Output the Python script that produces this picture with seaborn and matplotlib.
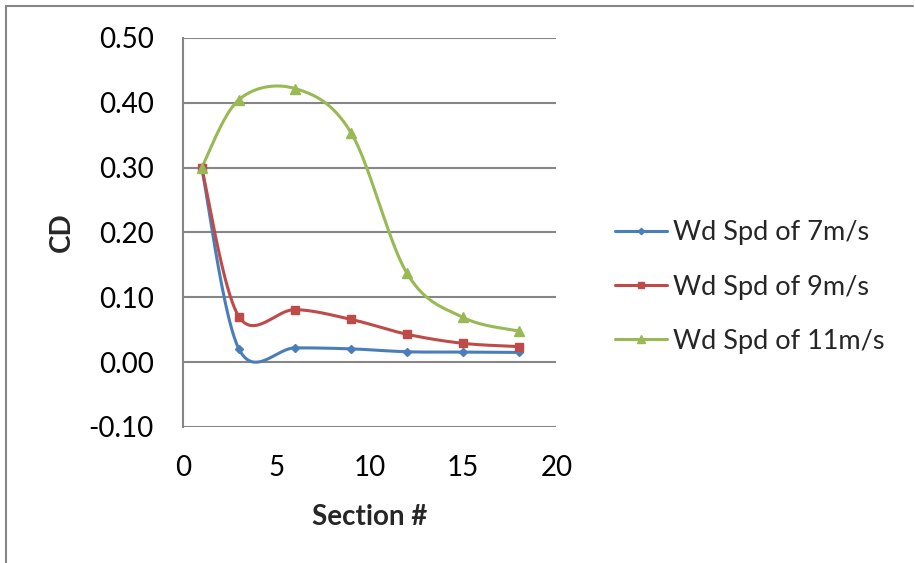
import numpy as np
import pandas as pd
import matplotlib
matplotlib.use("Agg")
import matplotlib.pyplot as plt
from matplotlib.lines import Line2D
import seaborn as sns

# Section positions and drag coefficients per wind speed
sections = [1, 3, 6, 9, 12, 15, 18]
cd_7 = [0.300, 0.020, 0.022, 0.0205, 0.016, 0.0155, 0.015]
cd_9 = [0.300, 0.070, 0.081, 0.066, 0.043, 0.029, 0.024]
cd_11 = [0.300, 0.405, 0.422, 0.354, 0.137, 0.069, 0.048]
series_names = ["Wd Spd of 7m/s", "Wd Spd of 9m/s", "Wd Spd of 11m/s"]
series_values = [cd_7, cd_9, cd_11]
y_ticks = [-0.10, 0.00, 0.10, 0.20, 0.30, 0.40, 0.50]
x_ticks = [0, 5, 10, 15, 20]

colors = ["#4A7EBB", "#BE4B48", "#98B954"]
markers = ["D", "s", "^"]
msizes = [4, 6, 7]


def smooth_curve(x, y, n=40):
    """Cardinal (Catmull-Rom style) Bezier smoothing through the points."""
    x = np.asarray(x, float)
    y = np.asarray(y, float)
    pts = np.column_stack([x, y])
    out = []
    m = len(pts)
    for i in range(m - 1):
        p0 = pts[i - 1] if i > 0 else pts[i]
        p1 = pts[i]
        p2 = pts[i + 1]
        p3 = pts[i + 2] if i + 2 < m else pts[i + 1]
        c1 = p1 + (p2 - p0) / 6.0
        c2 = p2 - (p3 - p1) / 6.0
        t = np.linspace(0, 1, n)[:, None]
        seg = ((1 - t) ** 3) * p1 + 3 * ((1 - t) ** 2) * t * c1 \
            + 3 * (1 - t) * t ** 2 * c2 + t ** 3 * p2
        out.append(seg if i == 0 else seg[1:])
    return np.vstack(out)


sns.set_theme(style="white")
plt.rcParams["font.family"] = ["Lato", "DejaVu Sans"]

fig = plt.figure(figsize=(9.15, 5.63), dpi=100)
ax = fig.add_axes([0.2, 0.2416, 0.408, 0.691])

frames = []
for name, vals in zip(series_names, series_values):
    curve = smooth_curve(sections, vals)
    frames.append(pd.DataFrame({"x": curve[:, 0], "y": curve[:, 1],
                                "series": name, "order": np.arange(len(curve))}))
curves = pd.concat(frames, ignore_index=True)

sns.lineplot(data=curves, x="x", y="y", hue="series", hue_order=series_names,
             palette=colors, sort=False, estimator=None, units="series",
             linewidth=2.2, legend=False, ax=ax)

points = pd.DataFrame({
    "x": sections * 3,
    "y": cd_7 + cd_9 + cd_11,
    "series": np.repeat(series_names, len(sections)),
})
for name, c, mk, ms in zip(series_names, colors, markers, msizes):
    sub = points[points["series"] == name]
    ax.plot(sub["x"], sub["y"], linestyle="none", marker=mk, markersize=ms,
            color=c, markeredgecolor=c, zorder=3)

ax.set_xlim(0, 20)
ax.set_ylim(-0.10, 0.50)
ax.set_xticks(x_ticks)
ax.set_yticks(y_ticks)
ax.set_xticklabels([str(v) for v in x_ticks])
ax.set_yticklabels([f"{v:.2f}" for v in y_ticks])
ax.tick_params(axis="both", length=0, labelsize=20, colors="black")
ax.tick_params(axis="y", pad=21)
ax.tick_params(axis="x", pad=20)

ax.grid(axis="y", color="#868686", linewidth=1.5)
ax.set_axisbelow(True)
for side in ["top", "right", "bottom"]:
    ax.spines[side].set_visible(False)
ax.spines["left"].set_color("#868686")
ax.spines["left"].set_linewidth(1.5)

ax.set_xlabel("Section #", fontsize=20, fontweight="bold", labelpad=17)
ax.set_ylabel("CD", fontsize=20, fontweight="bold", labelpad=10)

handles = [Line2D([0], [0], color=c, marker=mk, markersize=ms * 0.8, linewidth=2.2)
           for c, mk, ms in zip(colors, markers, msizes)]
fig.legend(handles, series_names, loc="center left", bbox_to_anchor=(0.645, 0.49),
           frameon=False, fontsize=19.5, handlelength=1.95, handletextpad=0.2,
           labelspacing=1.08)

# Chart-area frame on the left and top edges
fig.add_artist(Line2D([0.0066, 0.0066], [0, 0.989], transform=fig.transFigure,
                      color="#868686", linewidth=1.5))
fig.add_artist(Line2D([0.0066, 0.998], [0.989, 0.989], transform=fig.transFigure,
                      color="#868686", linewidth=1.5))

fig.savefig("out.png", dpi=100, facecolor="white")
